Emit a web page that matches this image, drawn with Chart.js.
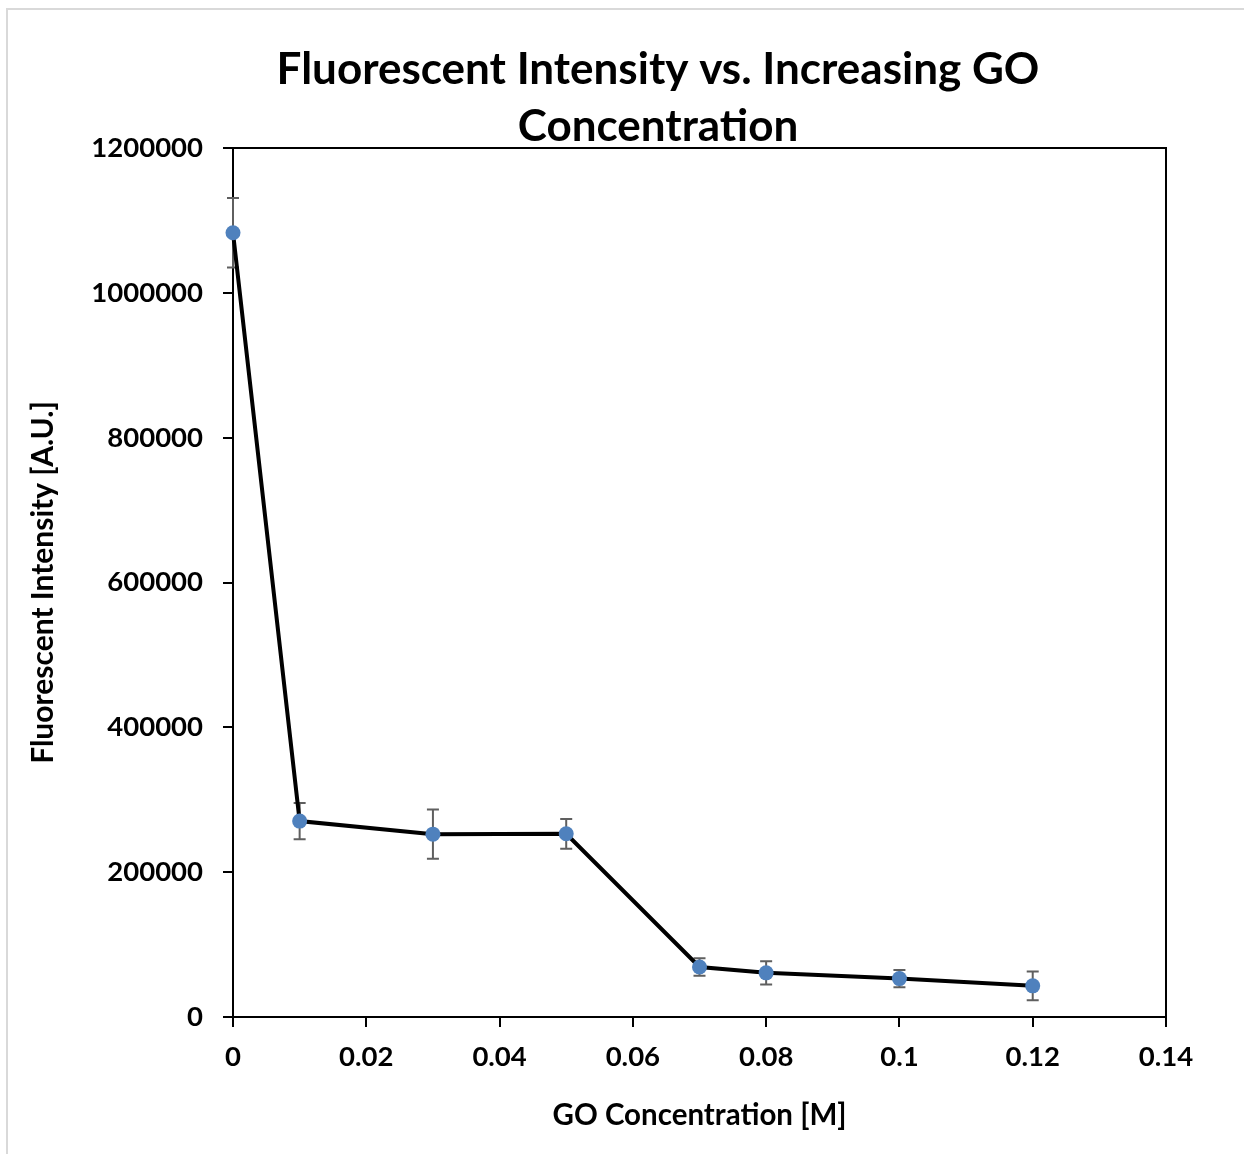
<!DOCTYPE html>
<html>
<head>
<meta charset="utf-8">
<script src="https://cdn.jsdelivr.net/npm/chart.js@4.4.0/dist/chart.umd.min.js"></script>
<style>
  html, body { margin: 0; padding: 0; background: #fff; }
  #wrap { width: 1244px; height: 1154px; position: relative; }
</style>
</head>
<body>
<div id="wrap"><canvas id="c" width="1244" height="1154"></canvas></div>
<script>
const concentrations = [0, 0.01, 0.03, 0.05, 0.07, 0.08, 0.1, 0.12];
const intensities = [1083000, 270500, 252500, 253000, 69000, 61000, 53000, 43000];
const errors = [48000, 25000, 34000, 20500, 12000, 16000, 12000, 20000];
const yTicks = [0, 200000, 400000, 600000, 800000, 1000000, 1200000];
const xTicks = [0, 0.02, 0.04, 0.06, 0.08, 0.1, 0.12, 0.14];
const titleLines = ['Fluorescent Intensity vs. Increasing GO', 'Concentration'];

const FONT = 'Lato';

const framePlugin = {
  id: 'frame',
  beforeDraw(chart) {
    const ctx = chart.ctx;
    ctx.save();
    ctx.fillStyle = '#fff';
    ctx.fillRect(0, 0, chart.width, chart.height);
    ctx.strokeStyle = '#d9d9d9';
    ctx.lineWidth = 2;
    ctx.strokeRect(7, 9, chart.width + 20, chart.height + 20);
    ctx.restore();
  },
  afterDraw(chart) {
    const ctx = chart.ctx;
    const a = chart.chartArea;
    ctx.save();
    ctx.strokeStyle = '#000';
    ctx.lineWidth = 2;
    ctx.beginPath();
    ctx.moveTo(a.left, a.top);
    ctx.lineTo(a.right, a.top);
    ctx.lineTo(a.right, a.bottom);
    ctx.stroke();
    ctx.fillStyle = '#000';
    ctx.font = 'bold 44px ' + FONT;
    ctx.textAlign = 'center';
    ctx.textBaseline = 'alphabetic';
    ctx.fillText(titleLines[0], 658, 84);
    ctx.fillText(titleLines[1], 658, 141);
    ctx.restore();
  }
};

const errorBarPlugin = {
  id: 'errorBars',
  beforeDatasetsDraw(chart) {
    const ctx = chart.ctx;
    const xs = chart.scales.x, ys = chart.scales.y;
    ctx.save();
    ctx.strokeStyle = '#5f5f5f';
    ctx.lineWidth = 2;
    const cap = 6;
    for (let i = 0; i < concentrations.length; i++) {
      const x = xs.getPixelForValue(concentrations[i]);
      const yt = ys.getPixelForValue(intensities[i] + errors[i]);
      const yb = ys.getPixelForValue(intensities[i] - errors[i]);
      ctx.beginPath();
      ctx.moveTo(x, yt); ctx.lineTo(x, yb);
      ctx.moveTo(x - cap, yt); ctx.lineTo(x + cap, yt);
      ctx.moveTo(x - cap, yb); ctx.lineTo(x + cap, yb);
      ctx.stroke();
    }
    ctx.restore();
  }
};

new Chart(document.getElementById('c'), {
  type: 'scatter',
  data: {
    datasets: [{
      data: concentrations.map((x, i) => ({ x: x, y: intensities[i] })),
      showLine: true,
      borderColor: '#000',
      borderWidth: 4,
      pointBackgroundColor: '#4f81bd',
      pointBorderColor: '#4f81bd',
      pointRadius: 7.5,
      pointBorderWidth: 0,
      clip: false
    }]
  },
  options: {
    responsive: false,
    animation: false,
    devicePixelRatio: 1,
    layout: { padding: { top: 148, right: 78, left: 0, bottom: 0 } },
    plugins: { legend: { display: false }, tooltip: { enabled: false }, title: { display: false } },
    scales: {
      x: {
        type: 'linear',
        min: 0, max: 0.14,
        afterBuildTicks(s) { s.ticks = xTicks.map(v => ({ value: v })); },
        afterFit(s) { s.height = 137; },
        grid: { drawOnChartArea: false, drawTicks: true, tickLength: 10, color: '#000', lineWidth: 2 },
        border: { display: true, color: '#000', width: 2 },
        ticks: {
          color: '#000', padding: 14,
          font: { family: FONT, size: 27.5, weight: 'bold' },
          maxRotation: 0,
          callback: v => String(v)
        },
        title: {
          display: true, text: 'GO Concentration [M]', color: '#000',
          font: { family: FONT, size: 29.5, weight: 'bold' },
          padding: { top: 0, bottom: 21 }
        }
      },
      y: {
        type: 'linear',
        min: 0, max: 1200000,
        afterBuildTicks(s) { s.ticks = yTicks.map(v => ({ value: v })); },
        afterFit(s) { s.width = 233; },
        grid: { drawOnChartArea: false, drawTicks: true, tickLength: 10, color: '#000', lineWidth: 2 },
        border: { display: true, color: '#000', width: 2 },
        ticks: {
          color: '#000', padding: 20,
          font: { family: FONT, size: 27.5, weight: 'bold' },
          callback: v => String(v)
        },
        title: {
          display: true, text: 'Fluorescent Intensity [A.U.]', color: '#000',
          font: { family: FONT, size: 30, weight: 'bold' },
          padding: { top: 25, bottom: 0 }
        }
      }
    }
  },
  plugins: [framePlugin, errorBarPlugin]
});
</script>
</body>
</html>
